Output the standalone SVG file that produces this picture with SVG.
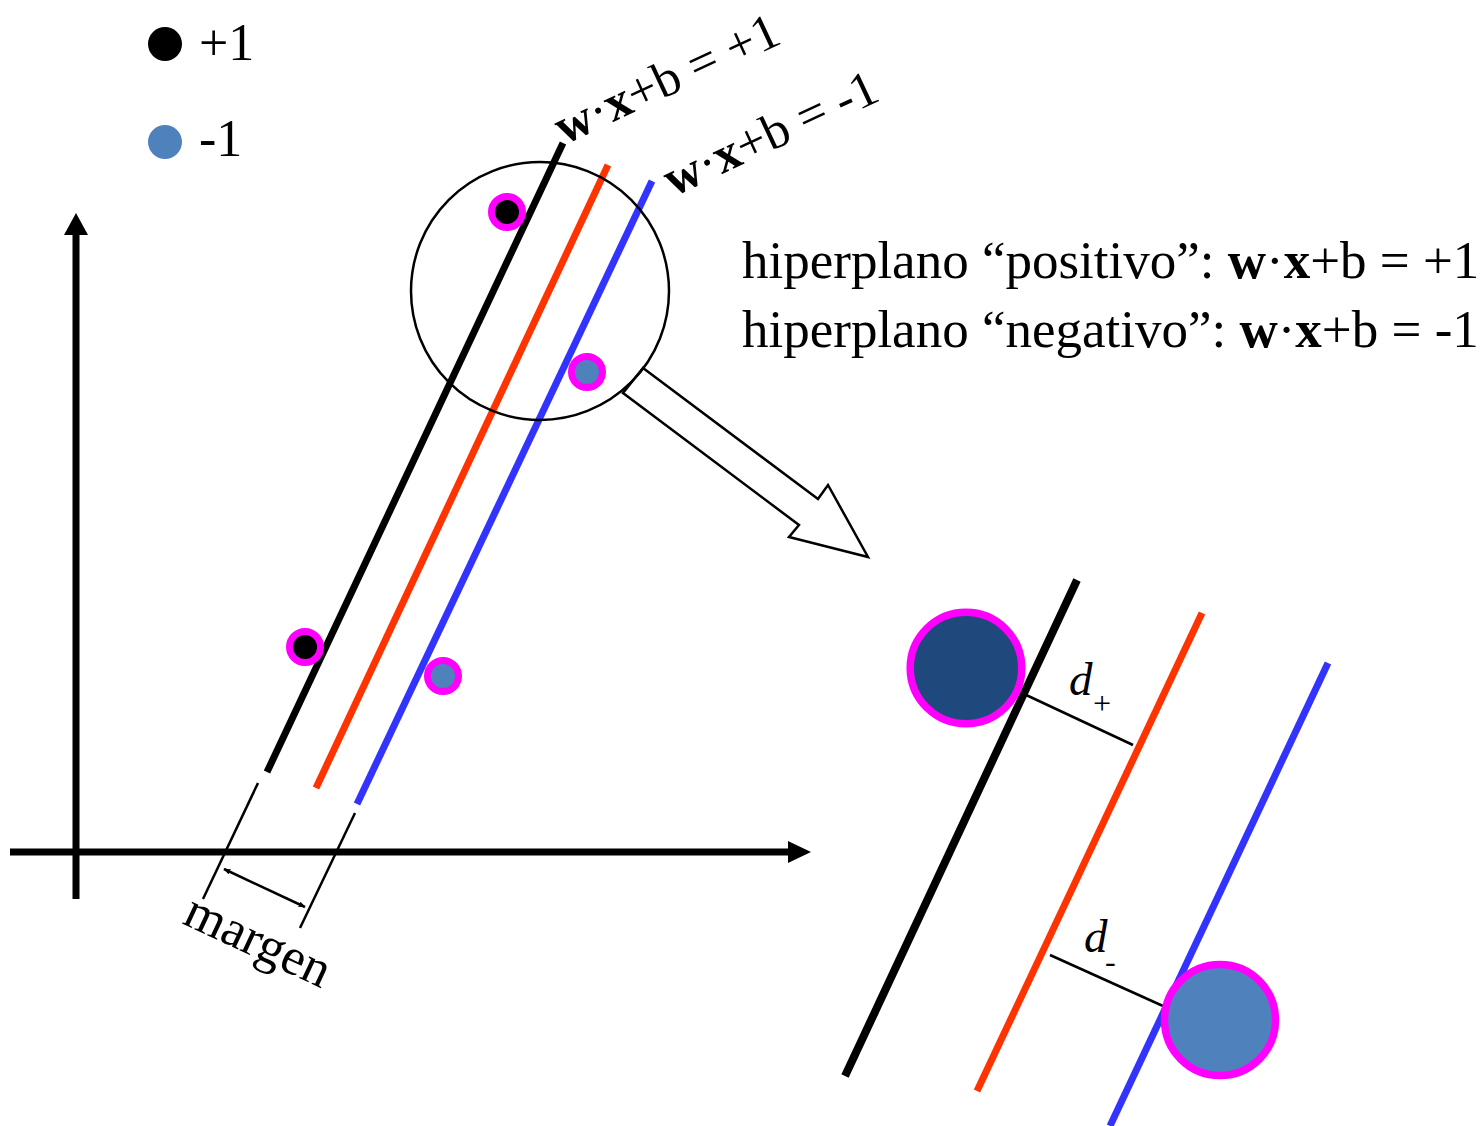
<svg xmlns="http://www.w3.org/2000/svg" width="1483" height="1126" viewBox="0 0 1483 1126">
<style>
text{font-family:"Liberation Serif","Times New Roman",serif;fill:#000}
.t{font-size:52px}
.r{font-size:51px}
.d{font-size:53px}
.b{font-weight:bold}
.blk{stroke:#000;stroke-width:7;fill:none}
.red{stroke:#ff3300;stroke-width:7;fill:none}
.blu{stroke:#3333ff;stroke-width:7;fill:none}
.thin{stroke:#000;stroke-width:2.5;fill:none}
.ring{stroke:#ff00ff;stroke-width:7}
</style>
<defs>
<marker id="ah" viewBox="0 0 10 10" refX="9" refY="5" markerWidth="7" markerHeight="7" markerUnits="userSpaceOnUse" orient="auto-start-reverse">
<path d="M0,1 L10,5 L0,9 z" fill="#000"/>
</marker>
</defs>
<rect width="1483" height="1126" fill="#fff"/>

<g id="connectors">
<line x1="76" y1="899" x2="76" y2="232" stroke="#000" stroke-width="7"/>
<polygon points="76,213 64,235 88,235" fill="#000"/>
<line x1="10" y1="852" x2="790" y2="852" stroke="#000" stroke-width="7"/>
<polygon points="811,852 788,841 788,863" fill="#000"/>
<line class="thin" x1="258" y1="783" x2="203" y2="899"/>
<line class="thin" x1="355" y1="813" x2="300" y2="928"/>
<line x1="224" y1="869" x2="305" y2="907" stroke="#000" stroke-width="2.5" marker-start="url(#ah)" marker-end="url(#ah)"/>
<polygon points="643,368 818,499 828,485 868,557 789,537 799,525 623,393" fill="#fff" stroke="#000" stroke-width="2.5" stroke-linejoin="miter"/>
<line class="thin" x1="1024" y1="694" x2="1133" y2="745"/>
<line class="thin" x1="1050" y1="955" x2="1163" y2="1006"/>
</g>

<g id="legend">
<circle cx="165" cy="44" r="17" fill="#000"/>
<text class="t" x="199" y="60">+1</text>
<circle cx="165" cy="142" r="17" fill="#4f81bd"/>
<text class="t" x="199" y="156">-1</text>
</g>

<g id="hyperplanes">
<line class="blk" x1="563" y1="143" x2="267" y2="772"/>
<line class="red" x1="608" y1="165" x2="316" y2="788"/>
<line class="blu" x1="652" y1="181" x2="357" y2="804"/>
</g>

<g id="magnifier">
<circle cx="540" cy="291" r="129" fill="none" stroke="#000" stroke-width="2.5"/>
</g>

<g id="points">
<circle class="ring" cx="507" cy="212" r="15.5" fill="#000"/>
<circle class="ring" cx="587" cy="372" r="15.5" fill="#4f81bd"/>
<circle class="ring" cx="305" cy="647" r="15.5" fill="#000"/>
<circle class="ring" cx="443" cy="676" r="15.5" fill="#4f81bd"/>
</g>

<g id="label-pos">
<text class="r" transform="translate(564,145) rotate(-25)"><tspan class="b">w</tspan>·<tspan class="b">x</tspan>+b = +1</text>
</g>
<g id="label-neg">
<text class="r" transform="translate(673,197) rotate(-25)"><tspan class="b">w</tspan>·<tspan class="b">x</tspan>+b = -1</text>
</g>

<g id="description">
<text class="d" x="742" y="278">hiperplano “positivo”: <tspan class="b">w</tspan>·<tspan class="b">x</tspan>+b = +1</text>
<text class="d" x="742" y="347">hiperplano “negativo”: <tspan class="b">w</tspan>·<tspan class="b">x</tspan>+b = -1</text>
</g>

<g id="margin-label">
<text class="t" transform="translate(181,923) rotate(25)">margen</text>
</g>

<g id="zoomed">
<line x1="1077" y1="580" x2="845" y2="1076" stroke="#000" stroke-width="8"/>
<line x1="1202" y1="613" x2="977" y2="1091" stroke="#ff3300" stroke-width="7"/>
<line x1="1328" y1="663" x2="1110" y2="1126" stroke="#3333ff" stroke-width="7"/>
<circle cx="966" cy="668" r="55.8" fill="#1f497d" stroke="#ff00ff" stroke-width="7.5"/>
<circle cx="1220" cy="1020" r="55.5" fill="#4f81bd" stroke="#ff00ff" stroke-width="7.5"/>
</g>

<g id="dplus">
<text x="1069" y="695" font-size="47" font-style="italic">d</text>
<text x="1091" y="714" font-size="32" font-style="italic">+</text>
</g>
<g id="dminus">
<text x="1084" y="952" font-size="47" font-style="italic">d</text>
<text x="1105" y="972" font-size="32" font-style="italic">-</text>
</g>
</svg>
